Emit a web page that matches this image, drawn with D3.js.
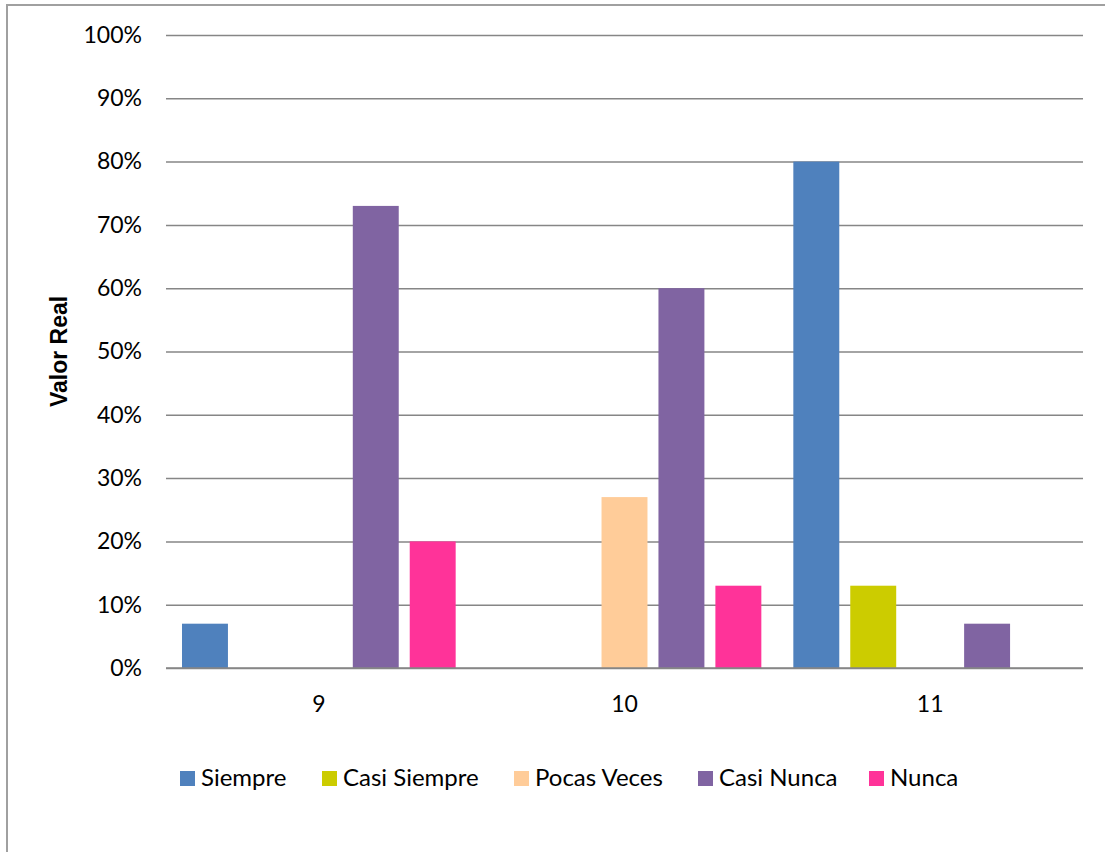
<!DOCTYPE html>
<html>
<head>
<meta charset="UTF-8">
<title>Valor Real</title>
<script src="https://cdn.jsdelivr.net/npm/d3@7"></script>
<style>
  body { margin: 0; background: #fff; }
  svg text { font-family: Lato, "Open Sans", sans-serif; fill: #000; }
</style>
</head>
<body>
<svg id="chart" width="1105" height="852"></svg>
<script>
// data
var categories = ["9", "10", "11"];
var series = ["Siempre", "Casi Siempre", "Pocas Veces", "Casi Nunca", "Nunca"];
var colors = ["#4F81BD", "#CCCC00", "#FFCC99", "#8064A2", "#FF3399"];
var siempre = [7, 0, 80];
var casiSiempre = [0, 0, 13];
var pocasVeces = [0, 27, 0];
var casiNunca = [73, 60, 7];
var nunca = [20, 13, 0];
var yTicks = [0, 10, 20, 30, 40, 50, 60, 70, 80, 90, 100];

var values = [siempre, casiSiempre, pocasVeces, casiNunca, nunca];

var svg = d3.select("#chart");

// outer frame (runs off the right / bottom edge like the original)
svg.append("rect")
  .attr("x", 7).attr("y", 5)
  .attr("width", 1120).attr("height", 870)
  .attr("fill", "none").attr("stroke", "#a0a0a0").attr("stroke-width", 2);

var plotL = 166, plotR = 1083, plotT = 35, plotB = 668;

var x0 = d3.scaleBand().domain(categories).range([plotL, plotR]);
var x1 = d3.scaleBand().domain(series).range([0, x0.bandwidth()])
  .paddingInner(0.193).paddingOuter(0.281);
var y = d3.scaleLinear().domain([0, 100]).range([plotB, plotT]);

// gridlines + y labels
var yAxis = d3.axisLeft(y).tickValues(yTicks)
  .tickSize(-(plotR - plotL)).tickPadding(24)
  .tickFormat(function (d) { return d + "%"; });
var gy = svg.append("g").attr("transform", "translate(" + plotL + ",0)").call(yAxis);
gy.select(".domain").remove();
gy.selectAll(".tick line").attr("stroke", "#868686").attr("stroke-width", 1.5);
gy.selectAll(".tick text").style("font-size", "23px").style("font-family", "Lato, sans-serif");

// bars
var groups = svg.append("g").selectAll("g")
  .data(categories).enter().append("g")
  .attr("transform", function (d) { return "translate(" + x0(d) + ",0)"; });

groups.selectAll("rect")
  .data(function (d, i) {
    return series.map(function (s, j) { return { s: s, v: values[j][i], c: colors[j] }; })
      .filter(function (e) { return e.v > 0; });
  })
  .enter().append("rect")
  .attr("x", function (d) { return x1(d.s); })
  .attr("y", function (d) { return y(d.v); })
  .attr("width", x1.bandwidth())
  .attr("height", function (d) { return plotB - y(d.v); })
  .attr("fill", function (d) { return d.c; });

// x axis line drawn on top
svg.append("line")
  .attr("x1", plotL).attr("x2", plotR).attr("y1", plotB).attr("y2", plotB)
  .attr("stroke", "#868686").attr("stroke-width", 1.5);

// category labels
svg.append("g").selectAll("text")
  .data(categories).enter().append("text")
  .attr("x", function (d) { return x0(d) + x0.bandwidth() / 2; })
  .attr("y", 712)
  .attr("text-anchor", "middle")
  .style("font-size", "23px")
  .text(function (d) { return d; });

// y axis title
svg.append("text")
  .attr("transform", "translate(67," + ((plotT + plotB) / 2) + ") rotate(-90)")
  .attr("text-anchor", "middle")
  .style("font-family", "'Liberation Sans', Arial, sans-serif")
  .style("font-size", "23px").style("font-weight", "bold")
  .text("Valor Real");

// legend
var legendX = [180, 322, 514, 698, 869];
var lg = svg.append("g").selectAll("g")
  .data(series).enter().append("g")
  .attr("transform", function (d, i) { return "translate(" + legendX[i] + ",771)"; });
lg.append("rect").attr("width", 15).attr("height", 15)
  .attr("fill", function (d, i) { return colors[i]; });
lg.append("text").attr("x", 21).attr("y", 15)
  .style("font-size", "24px")
  .text(function (d) { return d; });
</script>
</body>
</html>
